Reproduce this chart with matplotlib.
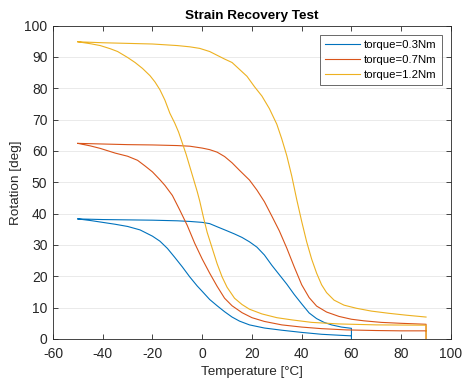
import numpy as np
import matplotlib
matplotlib.use("Agg")
import matplotlib.pyplot as plt

plt.rcParams['font.family'] = ['Liberation Sans', 'DejaVu Sans']
plt.rcParams['axes.unicode_minus'] = False

title = "Strain Recovery Test"
xlabel = "Temperature [°C]"
ylabel = "Rotation [deg]"
labels = ["torque=0.3Nm", "torque=0.7Nm", "torque=1.2Nm"]
colors = ["#0072BD", "#D95319", "#EDB120"]

# ---- torque = 0.3 Nm ----
b_up_T = [-50, -40, -30, -20, -10, -5, 0, 3, 6, 10, 13, 16, 19, 22, 25, 28, 31, 34, 37, 40, 43, 46, 49, 52, 56, 60]
b_up_R = [38.3, 38.1, 38.0, 37.9, 37.7, 37.5, 37.2, 36.8, 35.8, 34.5, 33.5, 32.4, 31.0, 29.3, 26.8, 23.5, 20.5, 17.5, 14.2, 11.2, 8.3, 6.5, 5.3, 4.5, 3.8, 3.4]
b_lo_T = [-50, -45, -40, -35, -30, -25, -20, -17, -14, -11, -8, -5, -2, 0, 3, 6, 9, 12, 15, 19, 25, 32, 40, 48, 55, 60]
b_lo_R = [38.3, 37.8, 37.2, 36.6, 35.9, 34.8, 32.8, 31.2, 28.9, 26.0, 23.0, 19.8, 16.9, 15.2, 12.6, 10.6, 8.7, 7.0, 5.7, 4.5, 3.5, 2.8, 2.1, 1.5, 1.2, 1.0]
b_drop_T = [60, 60]
b_drop_R = [3.4, 0]

# ---- torque = 0.7 Nm ----
o_up_T = [-50, -40, -30, -20, -10, -5, 0, 3, 6, 9, 12, 15, 19, 22, 25, 28, 31, 34, 37, 40, 43, 46, 50, 55, 60, 65, 72, 80, 90]
o_up_R = [62.4, 62.2, 62.0, 61.9, 61.7, 61.5, 60.9, 60.4, 59.6, 58.2, 56.2, 53.8, 50.7, 47.5, 43.8, 39.2, 34.5, 29.0, 23.0, 17.3, 13.2, 10.5, 8.6, 7.2, 6.3, 5.8, 5.3, 5.0, 4.7]
o_lo_T = [-50, -45, -41, -35, -30, -26, -23, -20, -17, -15, -12, -9, -6, -3, 0, 3, 6, 9, 12, 16, 20, 25, 32, 40, 48, 58, 70, 80, 90]
o_lo_R = [62.4, 61.6, 60.8, 59.3, 58.3, 57.0, 55.2, 53.3, 50.8, 49.0, 45.8, 41.1, 36.2, 30.5, 25.5, 21.0, 16.8, 13.0, 10.6, 8.4, 6.8, 5.6, 4.5, 3.8, 3.3, 2.9, 2.7, 2.6, 2.6]
o_drop_T = [90, 90]
o_drop_R = [4.7, 0]

# ---- torque = 1.2 Nm ----
y_up_T = [-50, -40, -30, -20, -10, -5, -1, 3, 6, 9, 12, 15, 18, 21, 24, 27, 30, 32, 34, 36, 38, 40, 42, 44, 46, 48, 50, 53, 57, 62, 68, 75, 82, 90]
y_up_R = [94.8, 94.5, 94.3, 94.1, 93.6, 93.2, 92.7, 91.7, 90.5, 89.3, 88.2, 86.0, 83.8, 80.5, 77.5, 73.5, 68.5, 63.8, 58.5, 52.0, 44.5, 37.5, 31.0, 25.5, 21.0, 17.3, 14.8, 12.4, 10.8, 9.8, 8.9, 8.2, 7.6, 7.0]
y_lo_T = [-50, -45, -41, -37, -34, -30, -27, -24, -21, -19, -17, -15, -13, -11, -9.5, -8, -6.5, -5, -3.5, -2, -1, 0.5, 2, 4, 6, 8, 10, 13, 16, 19, 24, 30, 36, 44, 55, 70, 90]
y_lo_R = [94.8, 94.2, 93.6, 92.6, 91.7, 89.8, 88.2, 86.3, 84.0, 82.0, 79.5, 76.2, 72.0, 68.8, 66.0, 62.5, 59.0, 55.0, 51.0, 47.0, 44.0, 38.8, 34.0, 29.0, 24.0, 19.8, 16.5, 13.0, 11.0, 9.5, 8.0, 6.8, 6.1, 5.3, 4.8, 4.5, 4.4]
y_drop_T = [90, 90]
y_drop_R = [4.4, 0]

xticks = [-60, -40, -20, 0, 20, 40, 60, 80, 100]
yticks = [0, 10, 20, 30, 40, 50, 60, 70, 80, 90, 100]

series = [
    (b_up_T, b_up_R, b_lo_T, b_lo_R, b_drop_T, b_drop_R),
    (o_up_T, o_up_R, o_lo_T, o_lo_R, o_drop_T, o_drop_R),
    (y_lo_T, y_lo_R, y_up_T, y_up_R, y_drop_T, y_drop_R),
]

fig = plt.figure(figsize=(4.62, 3.83), dpi=100)
ax = fig.add_axes([0.1147, 0.1149, 0.976 - 0.1147, 0.9334 - 0.1149])

for (aT, aR, bT, bR, zT, zR), lab, c in zip(series, labels, colors):
    T = list(aT) + list(zT) + [np.nan] + list(bT)
    R = list(aR) + list(zR) + [np.nan] + list(bR)
    ax.plot(T, R, color=c, lw=0.8, label=lab)

ax.set_xlim(-60, 100)
ax.set_ylim(0, 100)
ax.set_xticks(xticks)
ax.set_yticks(yticks)
axc = "#262626"
ax.tick_params(direction='in', top=True, right=True, length=3.5, width=0.6,
               colors=axc, labelsize=10)
ax.tick_params(axis='x', pad=5.5)
ax.tick_params(axis='y', pad=4)
for s in ax.spines.values():
    s.set_color(axc)
    s.set_linewidth(0.6)
    s.set_zorder(3)
ax.grid(axis='y', color='#e6e6e6', lw=0.6)
ax.set_axisbelow(True)

ax.set_title(title, fontsize=9.7, fontweight='bold', pad=4.5)
ax.set_xlabel(xlabel, fontsize=9.7, color=axc, labelpad=4)
ax.set_ylabel(ylabel, fontsize=9.7, color=axc, labelpad=2)

leg = ax.legend(loc='upper right', fontsize=8.2, frameon=True, fancybox=False,
                edgecolor=axc, handlelength=3.1, borderpad=0.48,
                labelspacing=0.42, handletextpad=0.3, borderaxespad=0.8)
leg.get_frame().set_linewidth(0.6)

fig.savefig("out.png", dpi=100)
